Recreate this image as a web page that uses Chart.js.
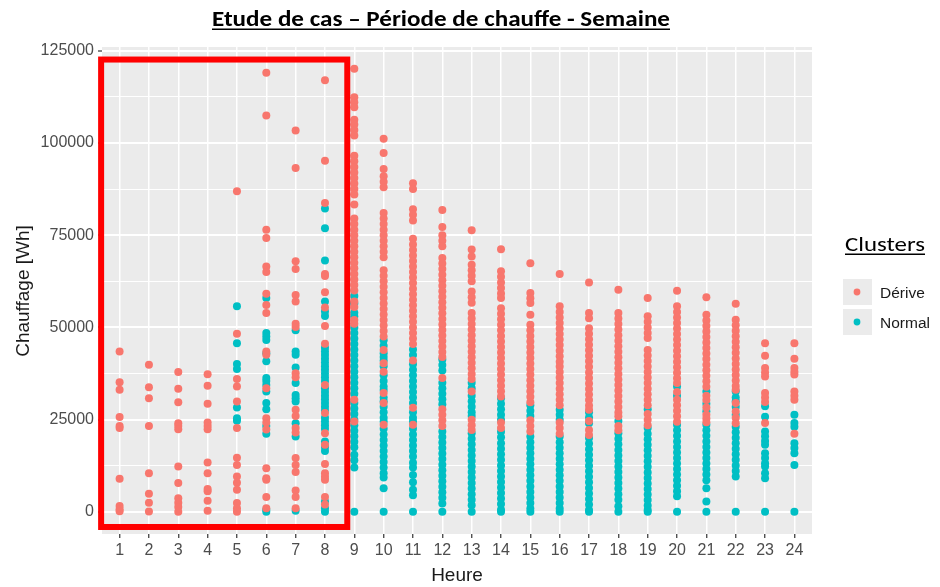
<!DOCTYPE html>
<html lang="fr">
<head>
<meta charset="utf-8">
<title>Etude de cas – Période de chauffe - Semaine</title>
<script src="https://cdn.jsdelivr.net/npm/chart.js@4/dist/chart.umd.min.js"></script>
<style>
  html, body { margin: 0; padding: 0; background: #fff; }
</style>
</head>
<body>
<canvas id="chart" width="940" height="587"></canvas>
<script>
// Hours on the x axis
const heures = [1, 2, 3, 4, 5, 6, 7, 8, 9, 10, 11, 12, 13, 14, 15, 16, 17, 18, 19, 20, 21, 22, 23, 24];

// Chauffage [Wh], cluster "Dérive", one list per hour (index 0 = hour 1)
const derive = [
    [43500, 35100, 33100, 25700, 23300, 22700, 9000, 1600, 700, 200],
    [39900, 33800, 30800, 23300, 10500, 4900, 2500, 100],
    [37900, 33400, 29700, 24000, 23300, 22400, 12300, 7800, 3700, 2500, 1300, 0],
    [37300, 34200, 29300, 24200, 23300, 22400, 13400, 10500, 6200, 5600, 3000, 300],
    [86900, 48300, 36000, 34000, 29900, 22700, 14700, 12700, 9600, 7900, 6000, 2400, 1000, 0],
    [119000, 107400, 76500, 74200, 66500, 65000, 59100, 56100, 53900, 43500, 42600, 33500, 25400, 24200, 22300, 11800, 9100, 8700, 4000, 1000],
    [103400, 93200, 67900, 65800, 58800, 57000, 51000, 50100, 37600, 36500, 27700, 26000, 22700, 21500, 14600, 12700, 10800, 5800, 4000, 1000],
    [117000, 95200, 83700, 64500, 63900, 59500, 55400, 50400, 45600, 34400, 26800, 21300, 18200, 13000, 10500, 9500, 8700, 4000, 2000],
    [120100, 112400, 111000, 109700, 106300, 105000, 103500, 102000, 96500, 95000, 93500, 92000, 90500, 89000, 87500, 86000, 83300, 79500, 78000, 76500, 75000, 73500, 72000, 70500, 69000, 67500, 66000, 64500, 63000, 61500, 60000, 57000, 55500, 52000, 51000, 30400, 24500],
    [101100, 97300, 92900, 91000, 89500, 88000, 81000, 79500, 78000, 76500, 75000, 73500, 72000, 70500, 69000, 65500, 64000, 62500, 61000, 59500, 58000, 56500, 55000, 53500, 52000, 50500, 49000, 47500, 43900, 40300, 38000, 32200, 29500, 23600],
    [89100, 87500, 82000, 80500, 79000, 74000, 72500, 71000, 69500, 68000, 66500, 65000, 63500, 62000, 60500, 59000, 57500, 56000, 54500, 53000, 51500, 50000, 48500, 47000, 45500, 41000, 28200, 23600],
    [81800, 77200, 75000, 73500, 72000, 68800, 67300, 65800, 64300, 62800, 61300, 59800, 58300, 56800, 55300, 53800, 52300, 50800, 49300, 47800, 46300, 44800, 43300, 42000, 36300, 27800, 26300, 24800, 23300],
    [76300, 71100, 69200, 67000, 65500, 64000, 62500, 59700, 58200, 56700, 53900, 52400, 50900, 49400, 47900, 46400, 44900, 43400, 41900, 40400, 38900, 37400, 36000, 32600, 25000, 23500, 22200],
    [71200, 65200, 63700, 62200, 60700, 59200, 58000, 55200, 53700, 52200, 50700, 49200, 47700, 46200, 44700, 43200, 41700, 40200, 38700, 37200, 35700, 34200, 32700, 31300, 24200, 22700],
    [67400, 59300, 57900, 56600, 53400, 50700, 49200, 47700, 46200, 44700, 43200, 41700, 40200, 38700, 37200, 35700, 34200, 32700, 31200, 29700, 24800, 23300, 21800],
    [64500, 55700, 54200, 52700, 51200, 49700, 48200, 46700, 45200, 43700, 42200, 40700, 39400, 37900, 36400, 34900, 33400, 31900, 30400, 28900, 24200, 22700, 21200],
    [62200, 53900, 52500, 49800, 48300, 46800, 45300, 43800, 42300, 40800, 39300, 37800, 36300, 34800, 33300, 31800, 30300, 28800, 27700, 24600, 22200, 20800],
    [60200, 53900, 52400, 50900, 49400, 47900, 46400, 44900, 43400, 41900, 40400, 38900, 37400, 35900, 34400, 32900, 31400, 29900, 28400, 26900, 25900, 23300, 22100],
    [58000, 53000, 51500, 50000, 48500, 47100, 43900, 42400, 40900, 39400, 37900, 36400, 34900, 33400, 31900, 30400, 28900, 26500, 25000, 23500],
    [59900, 55700, 54200, 52700, 51200, 49700, 48200, 46700, 45200, 43700, 42200, 40700, 39200, 37700, 36200, 34900, 32500, 30400, 28900, 27400, 25900, 24400],
    [58200, 53400, 51900, 50400, 48900, 47400, 45900, 44400, 42900, 41400, 39900, 38400, 36900, 35400, 33900, 31500, 30300, 28300, 26300, 25300, 24300],
    [56400, 52100, 50600, 49100, 47600, 46100, 44600, 43100, 41600, 40100, 38600, 37100, 35600, 34100, 33100, 29500, 27200, 25500, 24000],
    [45700, 42300, 39000, 37800, 36700, 32200, 31000, 29800, 24100],
    [45700, 41500, 39000, 38000, 37200, 32600, 31500, 30400, 21200]
];

// Chauffage [Wh], cluster "Normal", one list per hour
const normal = [
    [],
    [],
    [],
    [],
    [55700, 45700, 40100, 38700, 28300, 25400, 24700],
    [58000, 48500, 47500, 46600, 43000, 40800, 36300, 35500, 34400, 32600, 29500, 27800, 23300, 21200, 600, 0],
    [49200, 43500, 42600, 39100, 34900, 31700, 30800, 29900, 24000, 20400, 300],
    [82200, 76900, 68100, 57000, 54300, 53100, 44500, 43500, 42500, 41500, 40500, 39500, 38500, 37500, 36500, 35500, 33500, 32500, 31500, 30500, 29500, 28500, 27500, 25500, 24500, 23500, 22500, 19100, 17600, 16500, 2800, 1000, 0],
    [58500, 56500, 54000, 53000, 50000, 48500, 47000, 45500, 44000, 42500, 41000, 39500, 38000, 36500, 35000, 33500, 32000, 29500, 28000, 26500, 25000, 23500, 22000, 20500, 19000, 17500, 15500, 14000, 12000, 0],
    [46500, 45000, 43000, 42000, 41000, 39500, 37000, 35500, 34000, 33000, 31000, 30000, 28500, 27000, 25500, 24500, 22500, 21000, 19500, 18000, 16500, 15000, 13500, 12000, 10500, 9300, 6400, 0],
    [44000, 42500, 40000, 38500, 37000, 35500, 34000, 32500, 31000, 29500, 27000, 25500, 24500, 22500, 21000, 19500, 18000, 16500, 15000, 13300, 12000, 10000, 8000, 6000, 4500, 0],
    [41300, 39800, 38300, 35000, 33500, 32000, 30500, 29200, 21800, 20300, 18800, 17300, 15800, 14300, 12800, 11300, 9800, 8300, 6800, 5300, 3800, 2300, 0],
    [35000, 33500, 31500, 30000, 28500, 27000, 26000, 21300, 19800, 18300, 16800, 15300, 13800, 12300, 10800, 9300, 7800, 6300, 4800, 3300, 1800, 0],
    [30800, 29300, 27800, 26300, 25000, 21700, 20200, 18600, 17100, 15600, 14100, 12600, 11100, 9600, 8100, 6600, 5100, 3600, 2100, 600, 0],
    [28900, 27400, 26000, 20400, 18900, 17400, 15900, 14400, 12900, 11400, 9900, 8400, 6900, 5400, 3900, 2400, 900, 0],
    [27700, 26300, 25000, 20400, 18900, 17400, 15900, 14400, 12900, 11400, 9900, 8400, 6900, 5400, 3900, 2400, 900, 0],
    [27000, 25600, 24000, 20000, 18500, 17000, 15500, 14000, 12500, 11000, 9500, 8000, 6500, 5000, 3500, 2000, 500, 0],
    [24600, 21300, 19800, 18300, 16800, 15300, 13800, 12300, 10800, 9300, 7800, 6300, 4800, 3300, 1500, 0],
    [27800, 22700, 21200, 19700, 18200, 16700, 15200, 13700, 12200, 10700, 9200, 7700, 6200, 4700, 3200, 1700, 500, 0],
    [34000, 31500, 23600, 22100, 20600, 19100, 17600, 16100, 14600, 13100, 11600, 10100, 8600, 7100, 5600, 4200, 0],
    [32600, 29300, 27300, 23600, 22100, 20600, 19100, 17600, 16100, 14600, 13100, 11600, 10100, 8600, 6400, 2800, 0],
    [32600, 31000, 30000, 28500, 26300, 23100, 21600, 20100, 18600, 17100, 15600, 14100, 12600, 11100, 9600, 0],
    [28600, 25800, 21800, 20500, 19200, 18200, 15900, 14600, 13200, 12300, 10500, 9100, 0],
    [26300, 24100, 23100, 18600, 17300, 15900, 12700, 0]
];

// y axis breaks (major labelled, minor only gridlines)
const yMajor = [0, 25000, 50000, 75000, 100000, 125000];
const yMinor = [12500, 37500, 62500, 87500, 112500];

const couleurDerive = '#F8766D';
const couleurNormal = '#00BFC4';

function toPoints(lists) {
    const pts = [];
    lists.forEach((vals, i) => {
        vals.forEach(v => pts.push({ x: heures[i], y: v }));
    });
    return pts;
}

function isMajor(v) {
    return yMajor.includes(v);
}

// grey ggplot panel
const fondPanneau = {
    id: 'fondPanneau',
    beforeDraw(chart) {
        const { ctx, chartArea: a } = chart;
        ctx.save();
        ctx.fillStyle = '#EBEBEB';
        ctx.fillRect(a.left, a.top, a.right - a.left, a.bottom - a.top);
        ctx.restore();
    }
};

// text squeezed/stretched horizontally to a given width, then underlined
function underlined(ctx, text, x, y, align, lineY, width) {
    const w = ctx.measureText(text).width;
    const k = width / w;
    const x0 = align === 'center' ? x - width / 2 : x;
    ctx.save();
    ctx.translate(x0, y);
    ctx.scale(k, 1);
    ctx.textAlign = 'left';
    ctx.fillText(text, 0, 0);
    ctx.restore();
    ctx.fillRect(x0, lineY, width, 1.5);
}

// title, axis titles, legend and red frame
const habillage = {
    id: 'habillage',
    afterDraw(chart) {
        const { ctx } = chart;
        const xs = chart.scales.x;
        const ys = chart.scales.y;
        ctx.save();

        // red frame around hours 1 to 8
        const x0 = xs.getPixelForValue(0.37);
        const x1 = xs.getPixelForValue(8.76);
        const y0 = ys.getPixelForValue(122600);
        const y1 = ys.getPixelForValue(-4100);
        ctx.strokeStyle = '#FF0000';
        ctx.lineWidth = 6;
        ctx.strokeRect(x0, y0, x1 - x0, y1 - y0);

        // main title
        ctx.fillStyle = '#000';
        ctx.textBaseline = 'alphabetic';
        ctx.font = 'bold 22px Carlito, Lato, sans-serif';
        underlined(ctx, 'Etude de cas – Période de chauffe - Semaine', 441, 26, 'center', 28.5, 458);

        // axis titles
        ctx.fillStyle = '#1A1A1A';
        ctx.font = '19px "Liberation Sans", Arial, sans-serif';
        ctx.textAlign = 'center';
        ctx.fillText('Heure', (chart.chartArea.left + chart.chartArea.right) / 2, 581);
        ctx.save();
        ctx.translate(29, 291);
        ctx.rotate(-Math.PI / 2);
        ctx.fillText('Chauffage [Wh]', 0, 0);
        ctx.restore();

        // legend
        ctx.fillStyle = '#000';
        ctx.font = '20px Carlito, Lato, sans-serif';
        underlined(ctx, 'Clusters', 845, 251, 'left', 253.5, 80);

        const items = [['Dérive', couleurDerive, 292], ['Normal', couleurNormal, 322]];
        items.forEach(([label, col, cy]) => {
            ctx.fillStyle = '#EBEBEB';
            ctx.fillRect(843, cy - 13, 29, 26);
            ctx.fillStyle = col;
            ctx.beginPath();
            ctx.arc(857, cy, 3.4, 0, Math.PI * 2);
            ctx.fill();
            ctx.fillStyle = '#1A1A1A';
            ctx.font = '15.5px "Liberation Sans", Arial, sans-serif';
            ctx.textAlign = 'left';
            ctx.fillText(label, 880, cy + 5.5);
        });

        ctx.restore();
    }
};

const ctx = document.getElementById('chart').getContext('2d');

new Chart(ctx, {
    type: 'scatter',
    data: {
        datasets: [
            {
                label: 'Dérive',
                data: toPoints(derive),
                backgroundColor: couleurDerive,
                borderWidth: 0,
                pointRadius: 4
            },
            {
                label: 'Normal',
                data: toPoints(normal),
                backgroundColor: couleurNormal,
                borderWidth: 0,
                pointRadius: 4
            }
        ]
    },
    options: {
        responsive: false,
        animation: false,
        devicePixelRatio: 1,
        layout: { padding: { left: 0, right: 128, top: 47, bottom: 0 } },
        plugins: {
            legend: { display: false },
            title: { display: false },
            tooltip: { enabled: false }
        },
        scales: {
            x: {
                type: 'linear',
                min: 0.4,
                max: 24.6,
                afterBuildTicks: (scale) => {
                    scale.ticks = heures.map(h => ({ value: h }));
                },
                afterFit: (scale) => { scale.height = 53; },
                border: { display: false },
                grid: {
                    color: '#FFFFFF',
                    lineWidth: 1.5,
                    tickLength: 4,
                    tickColor: '#333333',
                    tickWidth: 1.2
                },
                ticks: {
                    autoSkip: false,
                    maxRotation: 0,
                    padding: 3,
                    color: '#4D4D4D',
                    font: { family: '"Liberation Sans", Arial, sans-serif', size: 16 },
                    callback: (v) => String(v)
                }
            },
            y: {
                type: 'linear',
                min: -6000,
                max: 126000,
                afterBuildTicks: (scale) => {
                    scale.ticks = yMajor.concat(yMinor).sort((a, b) => a - b).map(v => ({ value: v }));
                },
                afterFit: (scale) => { scale.width = 102; },
                border: { display: false },
                grid: {
                    color: '#FFFFFF',
                    lineWidth: (c) => (c.tick && isMajor(c.tick.value) ? 2 : 1),
                    tickLength: 4,
                    tickColor: (c) => (c.tick && isMajor(c.tick.value) ? '#333333' : 'rgba(0,0,0,0)'),
                    tickWidth: 1.2
                },
                ticks: {
                    autoSkip: false,
                    padding: 4,
                    color: '#4D4D4D',
                    font: { family: '"Liberation Sans", Arial, sans-serif', size: 16 },
                    callback: (v) => (isMajor(v) ? String(v) : '')
                }
            }
        }
    },
    plugins: [fondPanneau, habillage]
});
</script>
</body>
</html>
